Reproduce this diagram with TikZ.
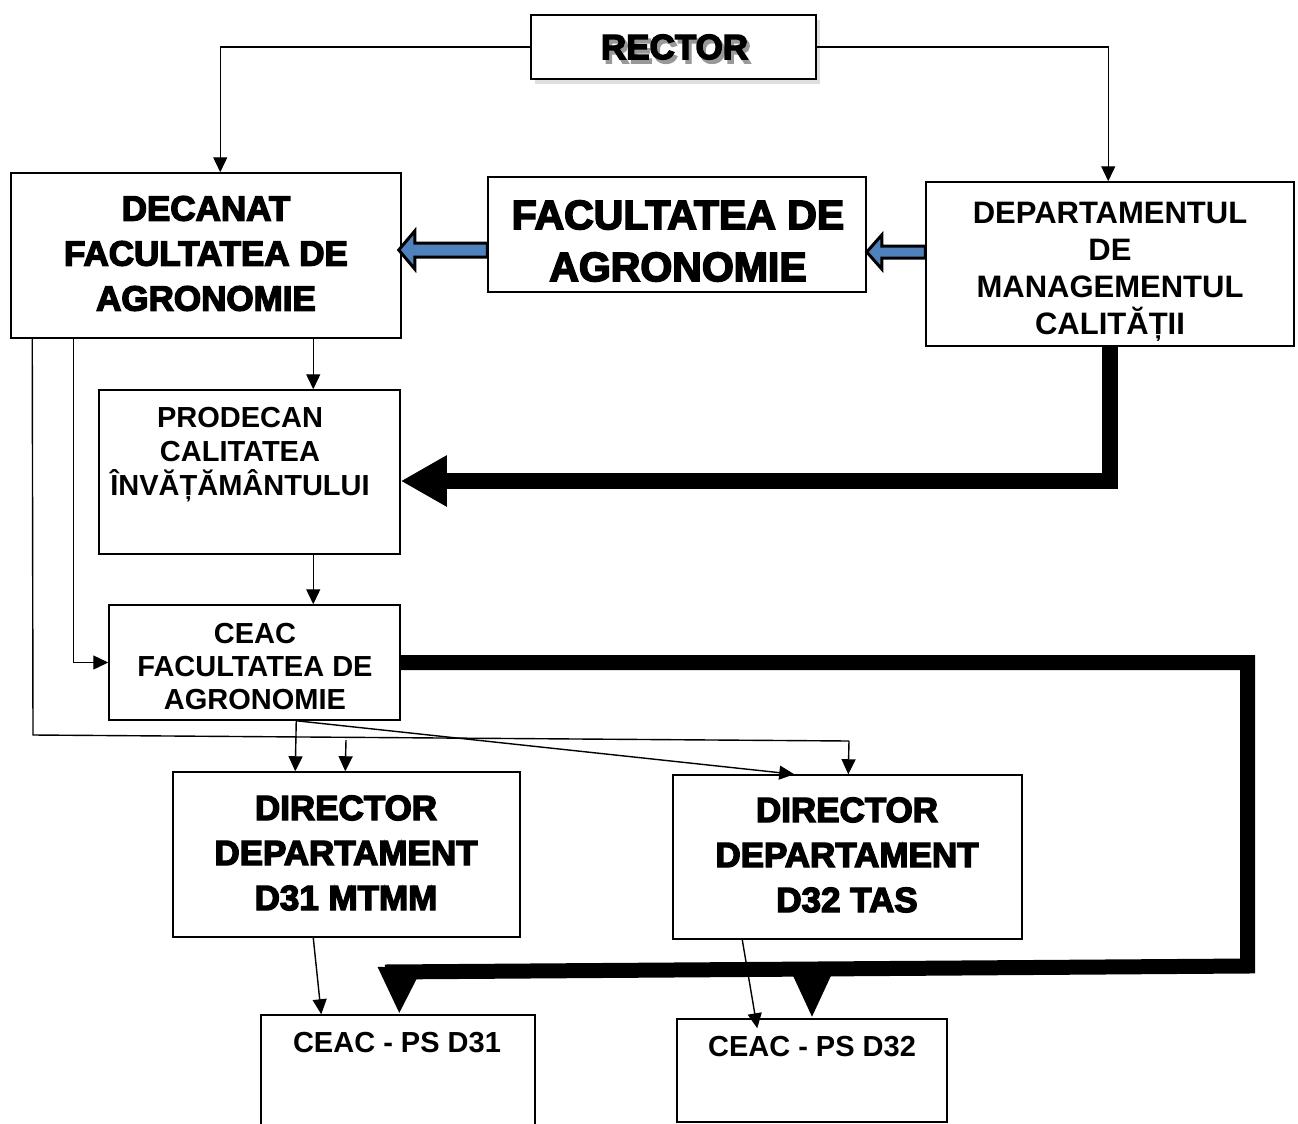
\documentclass[tikz,border=0pt]{standalone}
\usepackage{fontspec}
\setmainfont{Liberation Sans}
\newfontfamily\boldsans{Liberation Sans Bold}
\newfontfamily\heavyfont[FakeBold=4]{Liberation Sans Bold}
\usetikzlibrary{arrows.meta,shadows,calc}
\definecolor{arrowblue}{HTML}{4F81BD}
\begin{document}
\begin{tikzpicture}[x=1pt,y=-1pt,
  box/.style={draw, line width=1.5pt, inner sep=0pt, fill=white},
  txt/.style={align=center, inner sep=0pt},
  conn/.style={line width=1.4pt, -{Triangle[length=15pt,width=14pt]}},
  thickconn/.style={line width=15pt, line join=miter},
  bluearr/.style={draw=black, line width=3pt, fill=arrowblue, line join=miter}]
\useasboundingbox (0,0) rectangle (1298,1124);
\fill[white] (0,0) rectangle (1298,1124);

% boxes
\node[box, minimum width=285pt, minimum height=64pt,
      drop shadow={shadow xshift=4pt, shadow yshift=-5pt, opacity=.25}] (rector) at (673.5,47) {};
\node[box, minimum width=390pt, minimum height=165pt] (decanat) at (206,255.5) {};
\node[box, minimum width=378pt, minimum height=115pt] (fac) at (677,234.5) {};
\node[box, minimum width=368pt, minimum height=164pt] (dmc) at (1110,264) {};
\node[box, minimum width=301pt, minimum height=164pt] (prodecan) at (249.5,472) {};
\node[box, minimum width=291pt, minimum height=115pt] (ceac) at (254.5,662.5) {};
\node[box, minimum width=347pt, minimum height=165pt] (d31) at (346.5,854.5) {};
\node[box, minimum width=349pt, minimum height=164pt] (d32) at (847.5,857) {};
\node[box, minimum width=274pt, minimum height=130pt] (ps1) at (398,1080) {};
\node[box, minimum width=270pt, minimum height=103pt] (ps2) at (812,1070.5) {};

% texts
\node[txt, font=\heavyfont\fontsize{35}{40}\selectfont] (rectort) at (674.5,49)
  {\rlap{\hspace{3pt}\raisebox{-4pt}{\color{black!40}RECTOR}}RECTOR};
\node[txt, font=\heavyfont\fontsize{35}{45}\selectfont] (decanatt) at (206,253.5) {DECANAT\\FACULTATEA DE\\AGRONOMIE};
\node[txt, font=\heavyfont\fontsize{41}{52}\selectfont] (fact) at (678,241) {FACULTATEA DE\\AGRONOMIE};
\node[txt, font=\boldsans\fontsize{31}{37}\selectfont] (dmct) at (1110,271.5) {DEPARTAMENTUL\\DE\\MANAGEMENTUL\\CALITĂȚII};
\node[txt, font=\boldsans\fontsize{29}{34}\selectfont] (prodecant) at (240,455) {PRODECAN\\CALITATEA\\ÎNVĂȚĂMÂNTULUI};
\node[txt, font=\boldsans\fontsize{29}{33}\selectfont] (ceact) at (255,667) {CEAC\\FACULTATEA DE\\AGRONOMIE};
\node[txt, font=\heavyfont\fontsize{35}{45}\selectfont] (d31t) at (346,853) {DIRECTOR\\DEPARTAMENT\\D31 MTMM};
\node[txt, font=\heavyfont\fontsize{35}{45}\selectfont] (d32t) at (847,855) {DIRECTOR\\DEPARTAMENT\\D32 TAS};
\node[txt, font=\boldsans\fontsize{29}{33}\selectfont] (ps1t) at (397,1043) {CEAC - PS D31};
\node[txt, font=\boldsans\fontsize{29}{33}\selectfont] (ps2t) at (812,1047) {CEAC - PS D32};

% thin connectors
\draw[conn] (rector.west) -| ($(decanat.north west)+(210,0)$);
\draw[conn] (rector.east) -| ($(dmc.north west)+(183,0)$);
\draw[conn] ($(decanat.south west)+(303,0)$) -- ($(prodecan.north west)+(215,0)$);
\draw[conn] ($(prodecan.south west)+(215,0)$) -- ($(ceac.north west)+(205,0)$);
\draw[conn] ($(decanat.south west)+(63,0)$) |- (ceac.west);
\coordinate (c1) at (33,735);
\coordinate (c2) at (849,741);
\coordinate (c3) at (346,740);
\draw[line width=1.4pt] ($(decanat.south west)+(22,0)$) -- (c1) -- (c2);
\draw[conn] (c2) -- ($(d32.north west)+(176,0)$);
\draw[conn] (c3) -- ($(d31.north west)+(173,0)$);
\draw[conn] ($(ceac.south west)+(188,0)$) -- ($(d31.north west)+(123,0)$);
\draw[conn] ($(ceac.south west)+(188,0)$) -- ($(d32.north west)+(122,0)$);
\draw[conn] ($(d31.south west)+(141,0)$) -- ($(ps1.north west)+(61,0)$);
\draw[conn] ($(d32.south west)+(70,0)$) -- ($(ps2.north west)+(81,10)$);

% thick connectors
\draw[line width=16pt, line join=miter, -{Triangle[length=46pt,width=48pt]}]
  ($(dmc.south)+(0,-2)$) |- ($(prodecan.east)+(0,9)$);
\coordinate (t1) at (1247.5,662.5);
\coordinate (t2) at (1247.5,966);
\coordinate (t3) at (385,972);
\draw[thickconn] (ceac.east) -- (t1) -- (t2) -- (t3);
\coordinate (h1) at (400,967);
\coordinate (h2) at (812,963);
\draw[line width=12pt, -{Triangle[length=47pt,width=41pt]}] (h1) -- ($(ps1.north west)+(139,0)$);
\draw[line width=12pt, -{Triangle[length=50pt,width=41pt]}] (h2) -- (ps2.north);

% blue arrows
\coordinate (b1s) at ($(fac.west)+(0,15.5)$);
\coordinate (b1t) at ($(decanat.east)+(-3,-5.5)$);
\draw[bluearr] ($(b1s)+(0,-7)$) -- ($(b1t)+(16,-7)$) -- ($(b1t)+(16,-19)$) -- (b1t)
  -- ($(b1t)+(16,19)$) -- ($(b1t)+(16,7)$) -- ($(b1s)+(0,7)$) -- cycle;
\coordinate (b2s) at ($(dmc.west)+(0,-12)$);
\coordinate (b2t) at ($(fac.east)+(0,17.5)$);
\draw[bluearr] ($(b2s)+(0,-6)$) -- ($(b2t)+(15,-6)$) -- ($(b2t)+(15,-17)$) -- (b2t)
  -- ($(b2t)+(15,17)$) -- ($(b2t)+(15,6)$) -- ($(b2s)+(0,6)$) -- cycle;
\end{tikzpicture}
\end{document}
